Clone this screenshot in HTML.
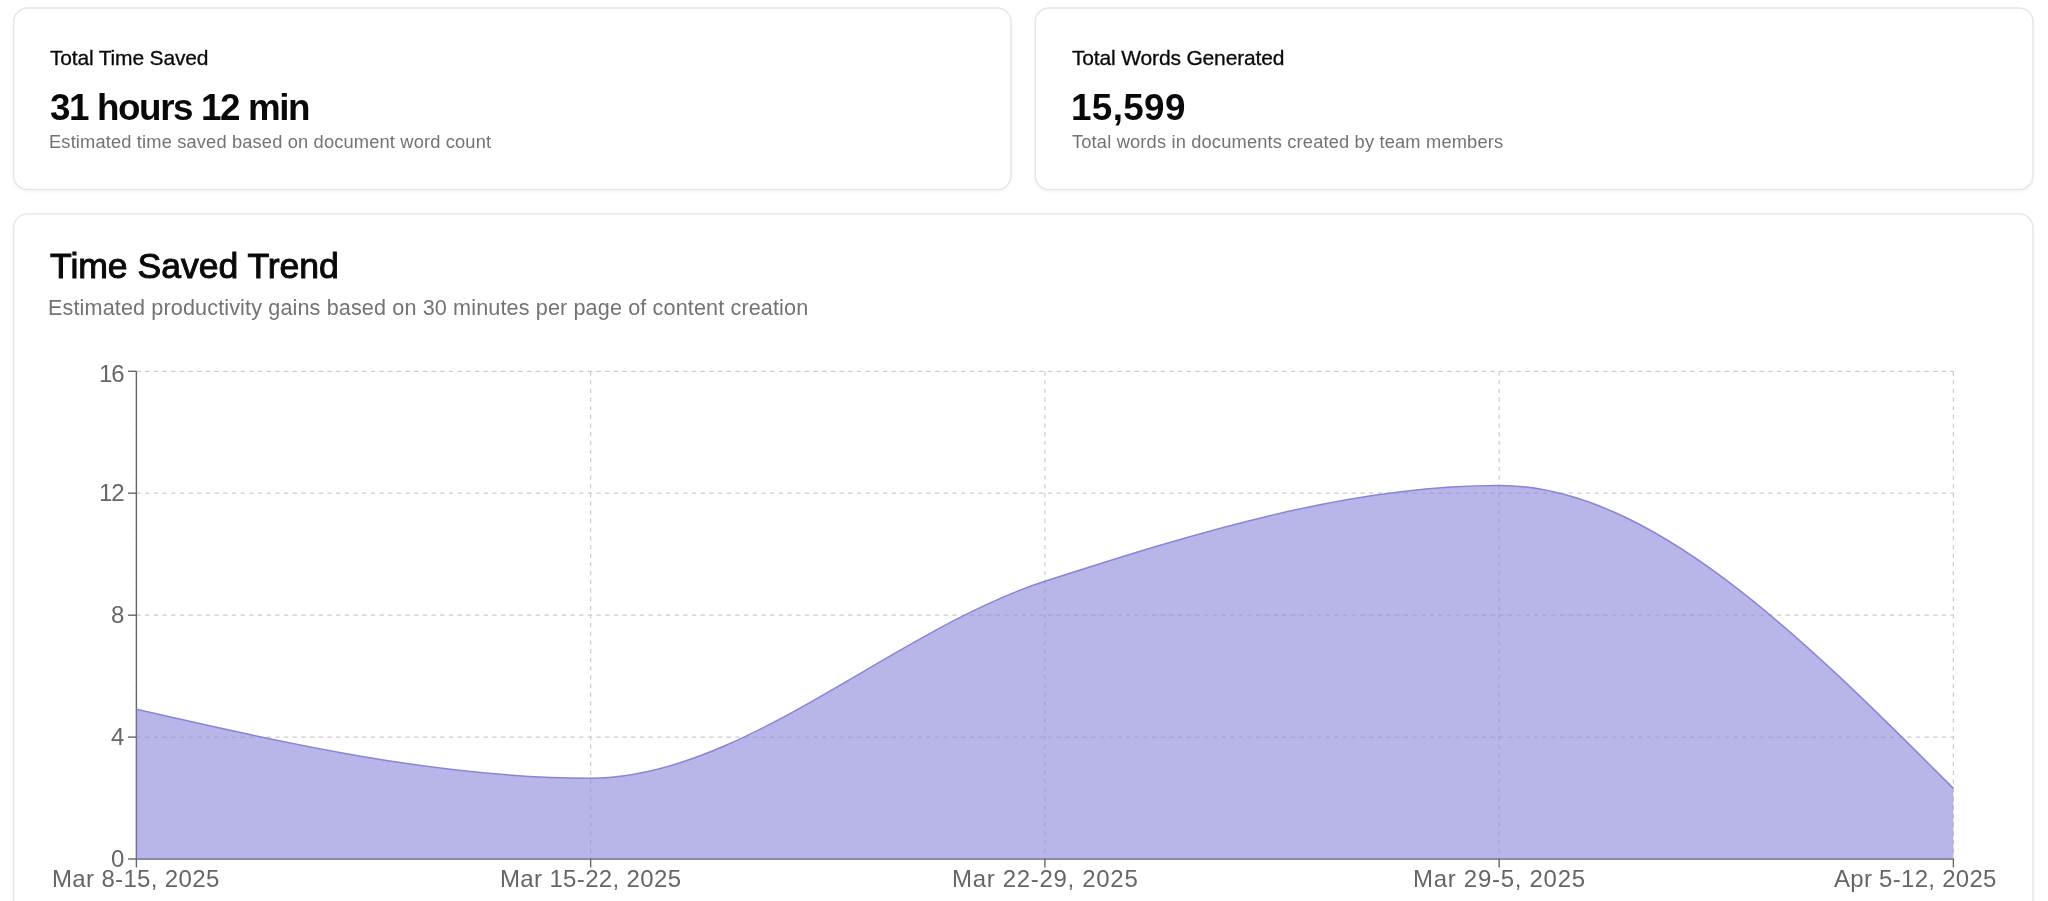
<!DOCTYPE html>
<html><head><meta charset="utf-8">
<style>
html,body{margin:0;padding:0;background:#fff;width:2048px;height:901px;overflow:hidden;}
body{position:relative;font-family:"Liberation Sans",sans-serif;}
.card{position:absolute;box-sizing:border-box;border:1.4px solid #e5e5e5;border-radius:14px;background:#fff;box-shadow:0 1px 2px rgba(0,0,0,0.05);}
.t{position:absolute;white-space:nowrap;line-height:1;will-change:transform;}
svg{position:absolute;left:0;top:0;}
</style></head><body>
<svg width="2048" height="901" viewBox="0 0 2048 901">
 <defs><filter id="sh" x="-2%" y="-10%" width="104%" height="130%"><feDropShadow dx="0" dy="1.4" stdDeviation="1.0" flood-color="#000" flood-opacity="0.05"/></filter></defs>
 <g fill="#fff" stroke="#e5e5e5" stroke-width="1.4">
  <rect x="13.7" y="8.0" width="997.3" height="181.5" rx="14" filter="url(#sh)"/>
  <rect x="1035.3" y="8.0" width="997.7" height="181.5" rx="14" filter="url(#sh)"/>
  <rect x="13.7" y="213.9" width="2019.3" height="720" rx="14" filter="url(#sh)"/>
 </g>
</svg>
<div class="t" style="left:49.54px;top:46.75px;font-size:21.0px;font-weight:400;color:#09090b;letter-spacing:-0.177px;-webkit-text-stroke:0.3px #09090b;">Total Time Saved</div>
<div class="t" style="left:49.59px;top:89.74px;font-size:36.8px;font-weight:700;color:#09090b;letter-spacing:-1.401px;">31 hours 12 min</div>
<div class="t" style="left:48.59px;top:132.50px;font-size:18.3px;font-weight:400;color:#737373;letter-spacing:0.148px;">Estimated time saved based on document word count</div>
<div class="t" style="left:1071.50px;top:46.75px;font-size:21.0px;font-weight:400;color:#09090b;letter-spacing:-0.159px;-webkit-text-stroke:0.3px #09090b;">Total Words Generated</div>
<div class="t" style="left:1070.50px;top:89.71px;font-size:36.8px;font-weight:700;color:#09090b;letter-spacing:0.364px;">15,599</div>
<div class="t" style="left:1071.51px;top:132.50px;font-size:18.3px;font-weight:400;color:#737373;letter-spacing:0.158px;">Total words in documents created by team members</div>
<div class="t" style="left:49.76px;top:248.79px;font-size:35.6px;font-weight:400;color:#09090b;letter-spacing:-0.033px;-webkit-text-stroke:1.0px #09090b;">Time Saved Trend</div>
<div class="t" style="left:47.80px;top:296.71px;font-size:21.6px;font-weight:400;color:#737373;letter-spacing:0.131px;">Estimated productivity gains based on 30 minutes per page of content creation</div>
<div class="t" style="left:51.52px;top:866.77px;font-size:24px;font-weight:400;color:#666;letter-spacing:0.348px;">Mar 8-15, 2025</div>
<div class="t" style="left:499.65px;top:866.77px;font-size:24px;font-weight:400;color:#666;letter-spacing:0.354px;">Mar 15-22, 2025</div>
<div class="t" style="left:951.74px;top:866.77px;font-size:24px;font-weight:400;color:#666;letter-spacing:0.688px;">Mar 22-29, 2025</div>
<div class="t" style="left:1412.69px;top:866.77px;font-size:24px;font-weight:400;color:#666;letter-spacing:0.715px;">Mar 29-5, 2025</div>
<div class="t" style="left:1833.70px;top:866.77px;font-size:24px;font-weight:400;color:#666;letter-spacing:0.276px;">Apr 5-12, 2025</div>
<div class="t" style="left:98.66px;top:361.81px;font-size:24px;font-weight:400;color:#666;letter-spacing:-1.000px;">16</div>
<div class="t" style="left:98.66px;top:480.77px;font-size:24px;font-weight:400;color:#666;letter-spacing:-1.000px;">12</div>
<div class="t" style="left:110.81px;top:602.53px;font-size:24px;font-weight:400;color:#666;letter-spacing:0.000px;">8</div>
<div class="t" style="left:110.66px;top:725.00px;font-size:24px;font-weight:400;color:#666;letter-spacing:0.000px;">4</div>
<div class="t" style="left:110.78px;top:846.72px;font-size:24px;font-weight:400;color:#666;letter-spacing:0.000px;">0</div>
<svg width="2048" height="901" viewBox="0 0 2048 901">
 <g stroke="#ccc" stroke-width="1.2" stroke-dasharray="4.34 4.34" fill="none">
  <line x1="136.4" y1="371.3" x2="1953.4" y2="371.3"/>
  <line x1="136.4" y1="493.2" x2="1953.4" y2="493.2"/>
  <line x1="136.4" y1="615.2" x2="1953.4" y2="615.2"/>
  <line x1="136.4" y1="737.1" x2="1953.4" y2="737.1"/>
  <line x1="136.4" y1="371.3" x2="136.4" y2="859"/>
  <line x1="590.65" y1="371.3" x2="590.65" y2="859"/>
  <line x1="1044.9" y1="371.3" x2="1044.9" y2="859"/>
  <line x1="1499.15" y1="371.3" x2="1499.15" y2="859"/>
  <line x1="1953.4" y1="371.3" x2="1953.4" y2="859"/>
 </g>
 <g stroke="#666" stroke-width="1.4" fill="none">
  <line x1="136.4" y1="371.3" x2="136.4" y2="859"/>
  <line x1="128" y1="371.3" x2="136.4" y2="371.3"/>
  <line x1="128" y1="493.2" x2="136.4" y2="493.2"/>
  <line x1="128" y1="615.2" x2="136.4" y2="615.2"/>
  <line x1="128" y1="737.1" x2="136.4" y2="737.1"/>
  <line x1="128" y1="859" x2="136.4" y2="859"/>
  <line x1="136.4" y1="859" x2="1953.4" y2="859"/>
  <line x1="136.4" y1="859" x2="136.4" y2="867.5"/>
  <line x1="590.65" y1="859" x2="590.65" y2="867.5"/>
  <line x1="1044.9" y1="859" x2="1044.9" y2="867.5"/>
  <line x1="1499.15" y1="859" x2="1499.15" y2="867.5"/>
  <line x1="1953.4" y1="859" x2="1953.4" y2="867.5"/>
 </g>
 <path d="M136.40,709.30C287.82,743.75,439.23,778.20,590.65,778.20C742.07,778.20,893.48,630.08,1044.90,581.30C1196.32,532.52,1347.73,485.50,1499.15,485.50C1650.57,485.50,1801.98,636.95,1953.40,788.40L1953.40,859.00L136.40,859.00Z" fill="#8884d8" fill-opacity="0.6" stroke="none"/>
 <path d="M136.40,709.30C287.82,743.75,439.23,778.20,590.65,778.20C742.07,778.20,893.48,630.08,1044.90,581.30C1196.32,532.52,1347.73,485.50,1499.15,485.50C1650.57,485.50,1801.98,636.95,1953.40,788.40" fill="none" stroke="#8884d8" stroke-width="1.5"/>
</svg>
</body></html>
